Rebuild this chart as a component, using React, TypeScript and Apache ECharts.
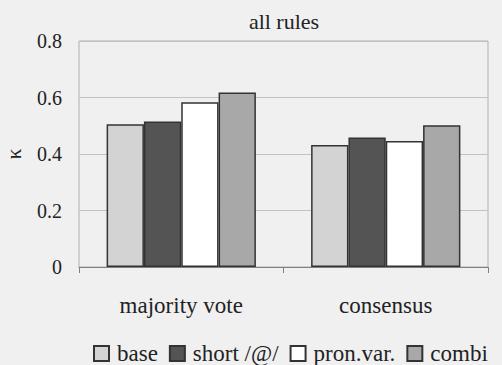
import React, { useEffect, useRef } from "react";
import * as echarts from "echarts";

const categories = ["majority vote", "consensus"];
const seriesNames = ["base", "short /@/", "pron.var.", "combi"];
const baseValues = [0.505, 0.432];
const shortValues = [0.515, 0.458];
const pronVarValues = [0.583, 0.446];
const combiValues = [0.618, 0.502];
const yTicks = [0, 0.2, 0.4, 0.6, 0.8];

const colors = ["#d3d3d3", "#545454", "#ffffff", "#a8a8a8"];
const font = "Liberation Serif";

export default function App() {
  const ref = useRef<HTMLDivElement>(null);
  useEffect(() => {
    if (!ref.current) return;
    const chart = echarts.init(ref.current, undefined, { renderer: "svg" });
    const values = [baseValues, shortValues, pronVarValues, combiValues];
    chart.setOption({
      animation: false,
      backgroundColor: "#f0f0f0",
      title: {
        text: "all rules",
        left: 279,
        textAlign: "center",
        top: 5,
        textStyle: { fontFamily: font, fontSize: 22, fontWeight: "normal", color: "#222" },
      },
      grid: {
        left: 79,
        right: 14,
        top: 41,
        bottom: 98,
        show: true,
        borderColor: "#b0b0b0",
        borderWidth: 1,
        backgroundColor: "transparent",
        outerBoundsMode: "none",
        containLabel: false,
      },
      legend: {
        left: 88,
        top: 337,
        width: 900,
        itemWidth: 15,
        itemHeight: 15,
        itemGap: 11,
        icon: "rect",
        textStyle: { fontFamily: font, fontSize: 23, color: "#222", padding: [0, 0, 0, 3] },
        data: seriesNames,
      },
      xAxis: {
        type: "category",
        data: categories,
        boundaryGap: true,
        axisLine: { lineStyle: { color: "#808080", width: 1 } },
        axisTick: { show: true, length: 6, lineStyle: { color: "#808080" } },
        axisLabel: { fontFamily: font, fontSize: 23, color: "#222", margin: 27 },
      },
      yAxis: {
        type: "value",
        min: yTicks[0],
        max: yTicks[yTicks.length - 1],
        interval: 0.2,
        name: "κ",
        nameLocation: "middle",
        nameRotate: 90,
        nameGap: 55,
        nameTextStyle: { fontFamily: font, fontSize: 21, color: "#222" },
        axisLine: { show: false },
        axisTick: { show: false },
        splitLine: { lineStyle: { color: "#c2c2c2", width: 1 } },
        axisLabel: {
          fontFamily: font,
          fontSize: 20,
          color: "#222",
          margin: 17,
          formatter: (v: number) => (v === 0 ? "0" : String(v)),
        },
      },
      series: seriesNames.map((name, i) => ({
        name,
        type: "bar",
        data: values[i],
        barGap: "0%",
        barCategoryGap: "27%",
        itemStyle: { color: colors[i], borderColor: "#333", borderWidth: 1.5 },
      })),
    });
    return () => chart.dispose();
  }, []);
  return (
    <div
      ref={ref}
      style={{ position: "fixed", left: 0, top: 0, width: 502, height: 365 }}
    />
  );
}
